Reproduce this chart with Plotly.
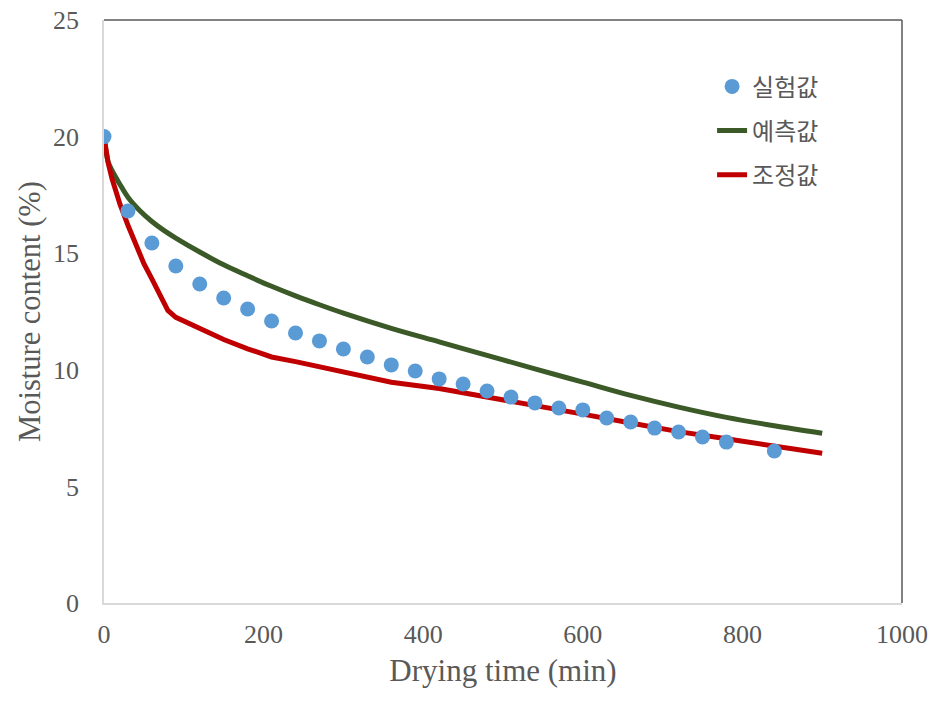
import plotly.graph_objects as go

# Experimental values (실험값)
exp_time = [0, 30, 60, 90, 120, 150, 180, 210, 240, 270, 300, 330, 360, 390, 420,
            450, 480, 510, 540, 570, 600, 630, 660, 690, 720, 750, 780, 840]
exp_mc = [20.0, 16.81, 15.44, 14.45, 13.68, 13.08, 12.61, 12.09, 11.58, 11.24, 10.89,
          10.55, 10.21, 9.95, 9.61, 9.39, 9.09, 8.83, 8.58, 8.36, 8.28, 7.93, 7.76,
          7.50, 7.33, 7.12, 6.90, 6.52]

# Predicted values (예측값)
pred_time = [0, 5, 10, 20, 30, 45, 60, 75, 90, 120, 150, 180, 210, 240, 270, 300,
             360, 420, 480, 540, 600, 660, 720, 780, 840, 900]
pred_mc = [20.0, 18.95, 18.55, 17.95, 17.4, 16.82, 16.36, 15.98, 15.65, 15.05, 14.5, 14.03,
           13.58, 13.17, 12.79, 12.43, 11.78, 11.2, 10.62, 10.04, 9.47, 8.9, 8.4,
           7.96, 7.6, 7.28]

# Adjusted values (조정값)
adj_time = [0, 5, 10, 20, 30, 40, 50, 60, 70, 80, 90, 120, 150, 180, 210, 240, 300,
            360, 420, 480, 540, 600, 660, 720, 780, 840, 900]
adj_mc = [20.0, 18.9, 18.2, 17.1, 16.2, 15.35, 14.55, 13.9, 13.2, 12.55, 12.25, 11.75,
          11.3, 10.9, 10.55, 10.35, 9.9, 9.47, 9.2, 8.85, 8.48, 8.1, 7.72, 7.35, 7.04,
          6.72, 6.42]

x_ticks = [0, 200, 400, 600, 800, 1000]
y_ticks = [0, 5, 10, 15, 20, 25]

serif = "Liberation Serif, Times New Roman, serif"
kr = "Noto Sans CJK KR, sans-serif"
txt = "#595959"

fig = go.Figure()
fig.add_trace(go.Scatter(x=pred_time, y=pred_mc, mode="lines", name="예측값",
                         legendgroup="b", legendrank=2,
                         line=dict(color="#3B5A27", width=5, shape="spline", smoothing=1.0)))
fig.add_trace(go.Scatter(x=adj_time, y=adj_mc, mode="lines", name="조정값",
                         legendgroup="c", legendrank=3,
                         line=dict(color="#C00000", width=5)))
fig.add_trace(go.Scatter(x=exp_time, y=exp_mc, mode="markers", name="실험값",
                         legendgroup="a", legendrank=1,
                         marker=dict(color="#5B9BD5", size=15)))

fig.update_layout(
    width=942, height=704,
    margin=dict(l=104, r=40, t=20, b=101),
    paper_bgcolor="white", plot_bgcolor="white",
    showlegend=True,
    legend=dict(x=0.762, y=0.924, xanchor="left", yanchor="top",
                font=dict(family=kr, size=24, color=txt),
                traceorder="grouped", tracegroupgap=10, itemwidth=30,
                bgcolor="rgba(0,0,0,0)"),
    font=dict(family=serif, color=txt),
)
fig.update_xaxes(range=[0, 1000], tickvals=x_ticks, showgrid=False, zeroline=False,
                 showline=True, linecolor="#D9D9D9", linewidth=1.5, automargin=False,
                 ticks="outside", ticklen=7, tickcolor="rgba(0,0,0,0)",
                 ticklabeloverflow="allow",
                 tickfont=dict(family=serif, size=26, color=txt),
                 title=dict(text="Drying time (min)", font=dict(family=serif, size=31, color=txt),
                            standoff=11))
fig.update_yaxes(range=[0, 25], tickvals=y_ticks, showgrid=False, zeroline=False,
                 showline=True, linecolor="#D9D9D9", linewidth=1.5, automargin=False,
                 ticks="outside", ticklen=18, tickcolor="rgba(0,0,0,0)",
                 ticklabeloverflow="allow",
                 tickfont=dict(family=serif, size=26, color=txt),
                 title=dict(text="Moisture content (%)", font=dict(family=serif, size=30.5, color=txt),
                            standoff=3))
# dark top and right frame lines
fig.add_shape(type="line", xref="paper", yref="paper", x0=0, x1=1, y0=1, y1=1,
              line=dict(color="#595959", width=1.5))
fig.add_shape(type="line", xref="paper", yref="paper", x0=1, x1=1, y0=0, y1=1,
              line=dict(color="#595959", width=1.5))

fig.write_html("out.html", config={"displayModeBar": False},
               post_script="document.body.style.margin='0';")
